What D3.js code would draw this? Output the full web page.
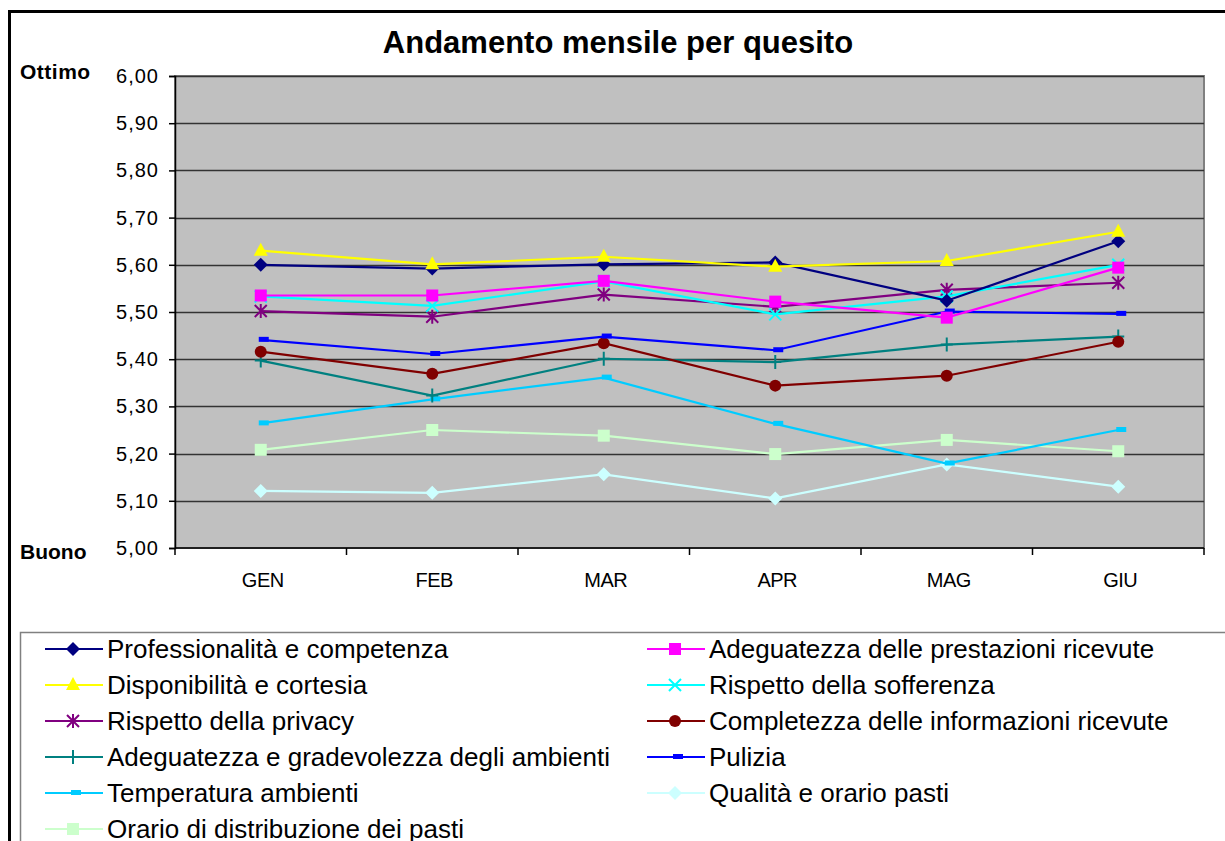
<!DOCTYPE html>
<html>
<head>
<meta charset="utf-8">
<script src="https://cdn.jsdelivr.net/npm/d3@7"></script>
<style>
  body { margin: 0; background: #fff; }
  svg { display: block; font-family: "Liberation Sans", Arial, sans-serif; }
</style>
</head>
<body>
<svg id="chart" width="1225" height="841"></svg>
<script>
// months on the x axis
const months = ["GEN", "FEB", "MAR", "APR", "MAG", "GIU"];
const yTicks = [5.0, 5.1, 5.2, 5.3, 5.4, 5.5, 5.6, 5.7, 5.8, 5.9, 6.0];

// series values
const professionalita = [5.600, 5.592, 5.601, 5.605, 5.524, 5.650];
const adeguatezzaPrestazioni = [5.535, 5.535, 5.566, 5.522, 5.488, 5.594];
const disponibilita = [5.630, 5.601, 5.617, 5.596, 5.608, 5.670];
const sofferenza = [5.533, 5.513, 5.565, 5.495, 5.533, 5.600];
const privacy = [5.502, 5.490, 5.537, 5.511, 5.547, 5.562];
const completezza = [5.416, 5.369, 5.434, 5.344, 5.365, 5.437];
const ambienti = [5.397, 5.323, 5.401, 5.394, 5.431, 5.448];
const pulizia = [5.441, 5.411, 5.448, 5.419, 5.501, 5.496];
const temperatura = [5.264, 5.315, 5.361, 5.263, 5.179, 5.250];
const qualitaPasti = [5.121, 5.117, 5.156, 5.105, 5.177, 5.130];
const orarioPasti = [5.208, 5.250, 5.238, 5.199, 5.229, 5.205];

// order follows the legend (row by row, left then right)
const series = [
    { name: "Professionalità e competenza", values: professionalita, color: "#000080", marker: "diamond" },
    { name: "Adeguatezza delle prestazioni ricevute", values: adeguatezzaPrestazioni, color: "#FF00FF", marker: "square" },
    { name: "Disponibilità e cortesia", values: disponibilita, color: "#FFFF00", marker: "triangle" },
    { name: "Rispetto della sofferenza", values: sofferenza, color: "#00FFFF", marker: "x" },
    { name: "Rispetto della privacy", values: privacy, color: "#800080", marker: "star" },
    { name: "Completezza delle informazioni ricevute", values: completezza, color: "#800000", marker: "circle" },
    { name: "Adeguatezza e gradevolezza degli ambienti", values: ambienti, color: "#008080", marker: "plus" },
    { name: "Pulizia", values: pulizia, color: "#0000FF", marker: "dash" },
    { name: "Temperatura ambienti", values: temperatura, color: "#00CCFF", marker: "dash" },
    { name: "Qualità e orario pasti", values: qualitaPasti, color: "#CCFFFF", marker: "diamond" },
    { name: "Orario di distribuzione dei pasti", values: orarioPasti, color: "#CCFFCC", marker: "square" }
];

// draw order in the plot (later ones on top)
const drawOrder = [10, 9, 8, 6, 5, 7, 4, 3, 1, 0, 2];

const svg = d3.select("#chart");

// outer chart border (cut by the picture on the right and bottom)
svg.append("path")
    .attr("d", "M9.5,845 V11.5 H1230")
    .attr("fill", "none")
    .attr("stroke", "#000")
    .attr("stroke-width", 3);

const plot = { left: 175, top: 76, right: 1204, bottom: 548 };

const x = d3.scaleBand()
    .domain(months)
    .range([plot.left, plot.right]);

const y = d3.scaleLinear()
    .domain([5, 6])
    .range([plot.bottom, plot.top]);

// plot area
svg.append("rect")
    .attr("x", plot.left)
    .attr("y", plot.top)
    .attr("width", plot.right - plot.left)
    .attr("height", plot.bottom - plot.top)
    .attr("fill", "#C0C0C0")
    .attr("stroke", "#808080")
    .attr("stroke-width", 2);

// gridlines
svg.append("g")
    .selectAll("line")
    .data(yTicks.slice(1))
    .enter().append("line")
    .attr("x1", plot.left)
    .attr("x2", plot.right)
    .attr("y1", d => Math.round(y(d)) + 0.5)
    .attr("y2", d => Math.round(y(d)) + 0.5)
    .attr("stroke", "#333")
    .attr("stroke-width", 1.5);

// y axis
const yAxis = svg.append("g")
    .attr("transform", "translate(" + plot.left + ",0)")
    .call(d3.axisLeft(y).tickValues(yTicks).tickSize(6).tickPadding(10)
        .tickFormat(d => d3.format(".2f")(d).replace(".", ",")));
yAxis.select(".domain").attr("stroke", "#000").attr("stroke-width", 1.5);
yAxis.selectAll(".tick line").attr("stroke", "#000").attr("stroke-width", 1.5);
yAxis.selectAll(".tick text")
    .attr("fill", "#000")
    .style("font-size", "20px")
    .style("letter-spacing", "1px")
    .style("font-family", "Liberation Sans, Arial, sans-serif");

// x axis: ticks sit between categories like Excel
const xAxis = svg.append("g")
    .attr("transform", "translate(0," + plot.bottom + ")");
xAxis.append("line")
    .attr("x1", plot.left).attr("x2", plot.right)
    .attr("y1", 0).attr("y2", 0)
    .attr("stroke", "#000").attr("stroke-width", 1.5);
xAxis.selectAll(".xt")
    .data(months.map(m => x(m)).concat([plot.right]))
    .enter().append("line")
    .attr("class", "xt")
    .attr("x1", d => d).attr("x2", d => d)
    .attr("y1", 0).attr("y2", 7)
    .attr("stroke", "#000").attr("stroke-width", 1.5);
xAxis.selectAll("text")
    .data(months)
    .enter().append("text")
    .attr("x", d => x(d) + x.bandwidth() / 2 + 2)
    .attr("y", 39)
    .attr("text-anchor", "middle")
    .style("font-size", "20px")
    .style("letter-spacing", "-0.5px")
    .text(d => d);

// title and axis end labels
svg.append("text")
    .attr("x", 618)
    .attr("y", 53)
    .attr("text-anchor", "middle")
    .style("font-size", "31px")
    .style("font-weight", "bold")
    .text("Andamento mensile per quesito");

svg.append("text")
    .attr("x", 20).attr("y", 79)
    .style("font-size", "21px").style("font-weight", "bold")
    .style("letter-spacing", "0.5px")
    .text("Ottimo");
svg.append("text")
    .attr("x", 20).attr("y", 559)
    .style("font-size", "21px").style("font-weight", "bold")
    .text("Buono");

// marker drawing
function drawMarker(g, type, color, cx, cy) {
    if (type === "diamond") {
        g.append("path")
            .attr("d", "M" + cx + "," + (cy - 7) + " L" + (cx + 7) + "," + cy + " L" + cx + "," + (cy + 7) + " L" + (cx - 7) + "," + cy + " Z")
            .attr("fill", color);
    } else if (type === "square") {
        g.append("rect")
            .attr("x", cx - 6).attr("y", cy - 6)
            .attr("width", 12).attr("height", 12)
            .attr("fill", color);
    } else if (type === "triangle") {
        g.append("path")
            .attr("d", "M" + cx + "," + (cy - 8) + " L" + (cx + 7) + "," + (cy + 5) + " L" + (cx - 7) + "," + (cy + 5) + " Z")
            .attr("fill", color);
    } else if (type === "circle") {
        g.append("circle")
            .attr("cx", cx).attr("cy", cy).attr("r", 6)
            .attr("fill", color);
    } else if (type === "x") {
        g.append("path")
            .attr("d", "M" + (cx - 6) + "," + (cy - 6) + " L" + (cx + 6) + "," + (cy + 6) + " M" + (cx + 6) + "," + (cy - 6) + " L" + (cx - 6) + "," + (cy + 6))
            .attr("stroke", color).attr("stroke-width", 2);
    } else if (type === "star") {
        g.append("path")
            .attr("d", "M" + (cx - 6) + "," + (cy - 6) + " L" + (cx + 6) + "," + (cy + 6) + " M" + (cx + 6) + "," + (cy - 6) + " L" + (cx - 6) + "," + (cy + 6)
                + " M" + cx + "," + (cy - 7) + " L" + cx + "," + (cy + 7))
            .attr("stroke", color).attr("stroke-width", 2);
    } else if (type === "plus") {
        g.append("path")
            .attr("d", "M" + (cx - 6) + "," + cy + " L" + (cx + 6) + "," + cy + " M" + cx + "," + (cy - 7) + " L" + cx + "," + (cy + 7))
            .attr("stroke", color).attr("stroke-width", 2);
    } else if (type === "dash") {
        g.append("rect")
            .attr("x", cx - 2).attr("y", cy - 3)
            .attr("width", 10).attr("height", 5)
            .attr("fill", color);
    }
}

const line = d3.line()
    .x((d, i) => x(months[i]) + x.bandwidth() / 2)
    .y(d => y(d));

const lines = svg.append("g");
drawOrder.forEach(idx => {
    const s = series[idx];
    const g = lines.append("g");
    g.append("path")
        .attr("d", line(s.values))
        .attr("fill", "none")
        .attr("stroke", s.color)
        .attr("stroke-width", 2.2);
    s.values.forEach((v, i) => {
        drawMarker(g, s.marker, s.color, x(months[i]) + x.bandwidth() / 2, y(v));
    });
});

// legend
const legend = svg.append("g");
legend.append("path")
    .attr("d", "M20.5,845 V632.5 H1230")
    .attr("fill", "none")
    .attr("stroke", "#808080")
    .attr("stroke-width", 1.5);

const cols = [45, 647];
const rowY = d3.scaleLinear().domain([0, 1]).range([649, 685]);
series.forEach((s, i) => {
    const col = i % 2;
    const row = Math.floor(i / 2);
    const lx = cols[col];
    const ly = rowY(row);
    const g = legend.append("g");
    g.append("line")
        .attr("x1", lx).attr("x2", lx + 58)
        .attr("y1", ly).attr("y2", ly)
        .attr("stroke", s.color)
        .attr("stroke-width", 2.2);
    drawMarker(g, s.marker, s.color, lx + 28, ly);
    g.append("text")
        .attr("x", lx + 62)
        .attr("y", ly + 9)
        .style("font-size", "26px")
        .text(s.name);
});
</script>
</body>
</html>
